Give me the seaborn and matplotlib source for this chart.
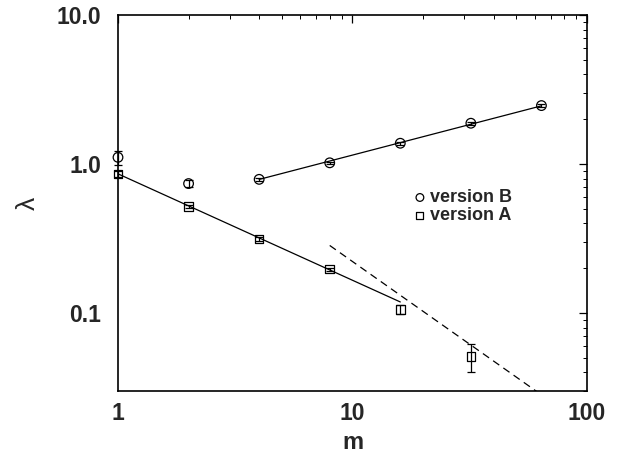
import numpy as np
import pandas as pd
import matplotlib
matplotlib.use("Agg")
import matplotlib.pyplot as plt
import seaborn as sns
from matplotlib.ticker import FixedLocator, FixedFormatter, LogLocator, NullFormatter

# data
m_B = [1, 2, 4, 8, 16, 32, 64]
lam_B = [1.11, 0.74, 0.79, 1.02, 1.38, 1.88, 2.47]
err_B = [0.12, 0.04, 0.02, 0.02, 0.03, 0.04, 0.06]
m_A = [1, 2, 4, 8, 16, 32]
lam_A = [0.86, 0.52, 0.315, 0.197, 0.106, 0.051]
err_A = [0.04, 0.015, 0.008, 0.005, 0.007, 0.011]
# power-law fits lambda = a * m^b over range
fitB = dict(a=0.447, b=0.41, lo=4, hi=64)
fitA = dict(a=0.86, b=-0.714, lo=1, hi=16)
fitD = dict(a=2.86, b=-1.11, lo=8, hi=64)
xticks = [1, 10, 100]
xticklabels = ["1", "10", "100"]
yticks = [0.1, 1.0, 10.0]
yticklabels = ["0.1", "1.0", "10.0"]

sns.set_style("white")
plt.rcParams['font.family'] = ['Liberation Sans', 'DejaVu Sans']

fig = plt.figure(figsize=(6.25, 4.57), dpi=100)
ax = fig.add_axes([0.1888, 0.1444, 0.7502, 0.8226])

def fit_df(f):
    x = np.geomspace(f['lo'], f['hi'], 50)
    return pd.DataFrame({'m': x, 'lam': f['a'] * x ** f['b']})

sns.lineplot(data=fit_df(fitB), x='m', y='lam', ax=ax, color='black', lw=0.9)
sns.lineplot(data=fit_df(fitA), x='m', y='lam', ax=ax, color='black', lw=0.9)
sns.lineplot(data=fit_df(fitD), x='m', y='lam', ax=ax, color='black', lw=0.9,
             linestyle=(0, (6, 4)))

for mm, ll, ee in ((m_B, lam_B, err_B), (m_A, lam_A, err_A)):
    eb = ax.errorbar(mm, ll, yerr=ee, fmt='none', ecolor='black', elinewidth=0.9,
                     capsize=3, capthick=0.9)
    for art in eb.lines[1] + eb.lines[2]:
        art.set_clip_on(False)

dfB = pd.DataFrame({'m': m_B, 'lam': lam_B})
dfA = pd.DataFrame({'m': m_A, 'lam': lam_A})
sns.scatterplot(data=dfB, x='m', y='lam', ax=ax, marker='o', s=48, facecolor='none',
                edgecolor='black', linewidth=0.9, label='version B', zorder=5, clip_on=False)
sns.scatterplot(data=dfA, x='m', y='lam', ax=ax, marker='s', s=38, facecolor='none',
                edgecolor='black', linewidth=0.9, label='version A', zorder=5, clip_on=False)

ax.set_xscale('log')
ax.set_yscale('log')
ax.set_xlim(1, 100)
ax.set_ylim(0.03, 10)

ax.xaxis.set_major_locator(FixedLocator(xticks))
ax.xaxis.set_major_formatter(FixedFormatter(xticklabels))
ax.yaxis.set_major_locator(FixedLocator(yticks))
ax.yaxis.set_major_formatter(FixedFormatter(yticklabels))
ax.xaxis.set_minor_locator(LogLocator(base=10, subs=np.arange(2, 10), numticks=20))
ax.yaxis.set_minor_locator(LogLocator(base=10, subs=np.arange(2, 10), numticks=20))
ax.xaxis.set_minor_formatter(NullFormatter())
ax.yaxis.set_minor_formatter(NullFormatter())

ax.tick_params(which='both', direction='in', top=True, right=True, color='black')
ax.tick_params(which='major', length=6, width=0.9, labelsize=16.5)
ax.tick_params(axis='x', which='major', pad=8)
ax.tick_params(axis='y', which='major', pad=12)
ax.tick_params(which='minor', length=3, width=0.7)
for lab in ax.get_xticklabels() + ax.get_yticklabels():
    lab.set_fontweight('bold')
for sp in ax.spines.values():
    sp.set_color('black')
    sp.set_linewidth(1.2)

ax.set_xlabel('m', fontsize=17, fontweight='bold', labelpad=4)
ax.set_ylabel('λ', fontsize=19, labelpad=12)

leg = ax.legend(loc='upper left', bbox_to_anchor=(0.59, 0.58), frameon=False,
                prop={'size': 13, 'weight': 'bold'}, handletextpad=0.05,
                labelspacing=0.05, markerscale=0.8, handlelength=1.0)

fig.savefig('out.png', dpi=100)
